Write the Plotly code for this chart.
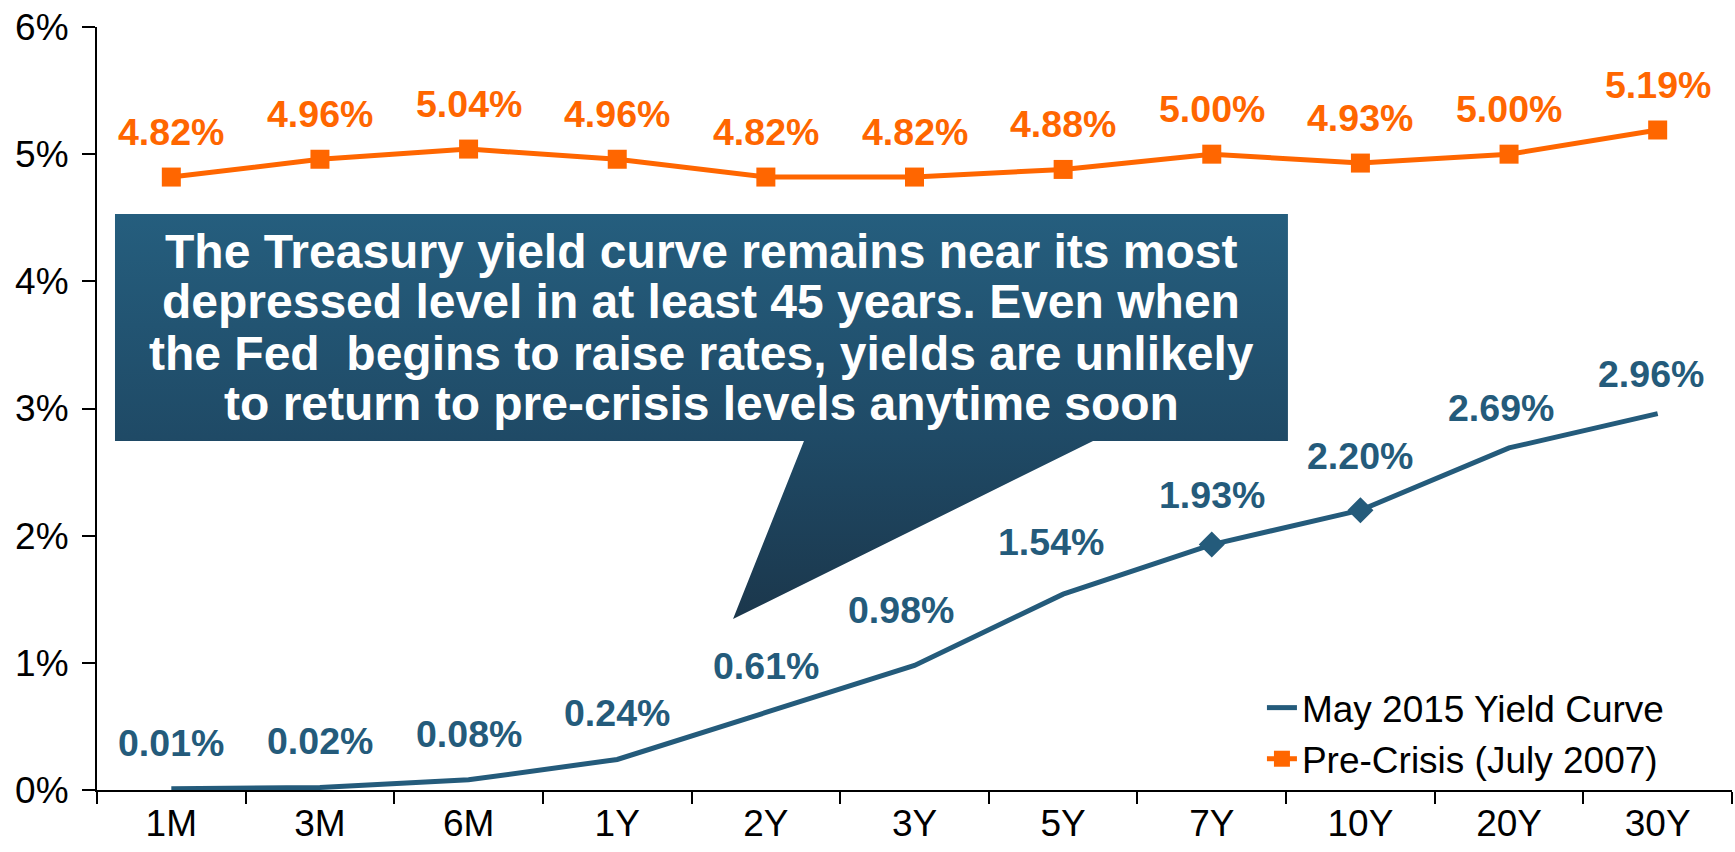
import plotly.graph_objects as go

# ---------------- data ----------------
categories = ["1M", "3M", "6M", "1Y", "2Y", "3Y", "5Y", "7Y", "10Y", "20Y", "30Y"]
may_2015 = [0.01, 0.02, 0.08, 0.24, 0.61, 0.98, 1.54, 1.93, 2.20, 2.69, 2.96]
pre_crisis = [4.82, 4.96, 5.04, 4.96, 4.82, 4.82, 4.88, 5.00, 4.93, 5.00, 5.19]
diamond_idx = [7, 8]
y_ticks = [0, 1, 2, 3, 4, 5, 6]

callout_lines = [
    "The Treasury yield curve remains near its most",
    "depressed level in at least 45 years. Even when",
    "the Fed&nbsp; begins to raise rates, yields are unlikely",
    "to return to pre-crisis levels anytime soon",
]

# ---------------- styles ----------------
BLUE = "#245B7B"
ORANGE = "#FF6600"
FONT = "Liberation Sans, Arial, sans-serif"
W, H = 1735, 852
ML, MR, MT, MB = 97, 3, 27, 62

# label offsets (pixels) for the blue series
blue_dx = [0, 0, 0, 0, 0, -14, -12, 0, 0, -8, -7]
blue_dy = [46, 46, 46, 46, 46, 55, 52, 50, 54, 40, 40]
orange_dy = 45

fig = go.Figure()

# callout shape (drawn in plot-fraction coordinates on an overlay axis)
cx = [0.0110, 0.7284, 0.7284, 0.6092, 0.3890, 0.4324, 0.0110, 0.0110]
cy = [0.7549, 0.7549, 0.4574, 0.4574, 0.2241, 0.4574, 0.4574, 0.7549]
fig.add_trace(go.Scatter(
    x=cx, y=cy, xaxis="x2", yaxis="y2", mode="lines",
    line=dict(width=0, color="rgba(0,0,0,0)"),
    fill="toself",
    fillgradient=dict(type="vertical",
                      colorscale=[[0, "#1B374C"], [0.45, "#1F4A66"], [1, "#255E7E"]]),
    showlegend=False, hoverinfo="skip",
))

fig.add_trace(go.Scatter(
    x=categories, y=may_2015, mode="lines", name="May 2015 Yield Curve",
    line=dict(color=BLUE, width=5),
))
fig.add_trace(go.Scatter(
    x=[categories[i] for i in diamond_idx], y=[may_2015[i] for i in diamond_idx],
    mode="markers", marker=dict(symbol="diamond", size=20, color=BLUE),
    showlegend=False, hoverinfo="skip",
))
fig.add_trace(go.Scatter(
    x=categories, y=pre_crisis, mode="lines+markers", name="Pre-Crisis (July 2007)",
    line=dict(color=ORANGE, width=5),
    marker=dict(symbol="square", size=19, color=ORANGE),
))

annotations = []
for i, (c, v) in enumerate(zip(categories, may_2015)):
    annotations.append(dict(
        x=c, y=v, xref="x", yref="y", text=f"{v:.2f}%", showarrow=False,
        xshift=blue_dx[i], yshift=blue_dy[i],
        font=dict(family=FONT, size=37.5, color=BLUE, weight="bold"),
    ))
for c, v in zip(categories, pre_crisis):
    annotations.append(dict(
        x=c, y=v, xref="x", yref="y", text=f"{v:.2f}%", showarrow=False,
        yshift=orange_dy,
        font=dict(family=FONT, size=37.5, color=ORANGE, weight="bold"),
    ))

line_y = [0.7064, 0.6396, 0.5727, 0.5059]
for t, yy in zip(callout_lines, line_y):
    annotations.append(dict(
        x=0.3697, y=yy, xref="paper", yref="paper", text=t, showarrow=False,
        xanchor="center", yanchor="middle",
        font=dict(family=FONT, size=48, color="white", weight="bold"),
    ))

fig.update_layout(
    width=W, height=H,
    margin=dict(l=ML, r=MR, t=MT, b=MB, pad=0),
    paper_bgcolor="white", plot_bgcolor="white",
    font=dict(family=FONT, size=37, color="black"),
    showlegend=True,
    legend=dict(
        x=0.7125, y=0.148, xanchor="left", yanchor="top",
        bgcolor="rgba(0,0,0,0)", font=dict(family=FONT, size=37, color="black"),
        traceorder="normal",
    ),
    xaxis=dict(
        type="category", categoryorder="array", categoryarray=categories,
        range=[-0.5, len(categories) - 0.5],
        showline=True, linecolor="black", linewidth=2,
        ticks="outside", tickson="boundaries", ticklen=12, tickwidth=2, tickcolor="black",
        showgrid=False, zeroline=False,
        tickfont=dict(family=FONT, size=37, color="black"),
    ),
    yaxis=dict(
        range=[0, 6], tickvals=y_ticks, ticktext=[f"{v}%" for v in y_ticks],
        showline=True, linecolor="black", linewidth=2,
        ticks="outside", ticklen=13, tickwidth=2, tickcolor="black",
        showgrid=False, zeroline=False, ticklabelstandoff=6,
        tickfont=dict(family=FONT, size=37, color="black"),
    ),
    xaxis2=dict(range=[0, 1], overlaying="x", visible=False, fixedrange=True),
    yaxis2=dict(range=[0, 1], overlaying="y", visible=False, fixedrange=True),
    annotations=annotations,
)

fig.write_html("out.html")
